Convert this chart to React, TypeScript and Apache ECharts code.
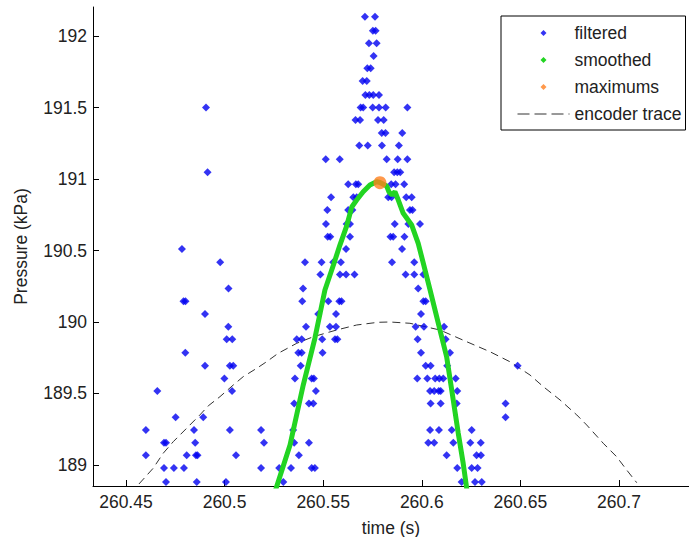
import React, { useEffect, useRef } from 'react';
import * as echarts from 'echarts';

const FONT = 'Arial, "Liberation Sans", sans-serif';

const X_MIN = 260.4333;
const X_MAX = 260.7355;
const Y_MIN = 188.853;
const Y_MAX = 192.203;
const xTicks = [260.45, 260.5, 260.55, 260.6, 260.65, 260.7];
const yTicks = [189, 189.5, 190, 190.5, 191, 191.5, 192];

// filtered samples: pressure levels and the times seen at each level
const filteredLevels = [
  192.135, 192.037, 191.949, 191.86, 191.774, 191.685, 191.587, 191.501, 191.413, 191.322,
  191.234, 191.138, 191.047, 190.963, 190.872, 190.783, 190.686, 190.597, 190.51, 190.417,
  190.332, 190.234, 190.145, 190.056, 189.967, 189.879, 189.785, 189.694, 189.605, 189.517,
  189.43, 189.334, 189.245, 189.155, 189.068, 188.979, 188.881,
];
const filteredTimes = [
  [260.5712, 260.5763],
  [260.5752, 260.5766],
  [260.5732, 260.5771],
  [260.5756],
  [260.5724, 260.5741],
  [260.57, 260.5721],
  [260.5714, 260.5734, 260.5754, 260.5783],
  [260.4906, 260.569, 260.5703, 260.5751, 260.5783, 260.5817, 260.5927],
  [260.5664, 260.5687, 260.5778, 260.5807],
  [260.5797, 260.5816, 260.5901],
  [260.5683, 260.5726, 260.5798, 260.5884],
  [260.5513, 260.5584, 260.5822, 260.5878, 260.5927],
  [260.4914, 260.586, 260.5876, 260.5891],
  [260.5627, 260.5666, 260.5678, 260.5845, 260.5867, 260.5911],
  [260.554, 260.5653, 260.567, 260.583, 260.5847, 260.5921, 260.5949],
  [260.5521, 260.5627, 260.5648, 260.594, 260.5953],
  [260.5514, 260.5619, 260.5636, 260.5863, 260.5932, 260.5991],
  [260.5523, 260.5536, 260.5636, 260.5841, 260.5855, 260.5912],
  [260.4784, 260.5616, 260.59],
  [260.4978, 260.5408, 260.5492, 260.5551, 260.559, 260.5849, 260.5962],
  [260.5486, 260.5585, 260.5616, 260.5659, 260.5918, 260.5962, 260.6008],
  [260.502, 260.5398, 260.5982],
  [260.4792, 260.4802, 260.5394, 260.5526, 260.5582, 260.5593, 260.6008, 260.602],
  [260.4901, 260.5475, 260.5565, 260.5996],
  [260.5019, 260.5413, 260.5534, 260.5565, 260.5969, 260.6011, 260.6113],
  [260.5011, 260.5039, 260.5366, 260.5391, 260.5495, 260.556, 260.5572, 260.5979, 260.6121],
  [260.4801, 260.5374, 260.5391, 260.5497, 260.5996, 260.6143],
  [260.4901, 260.5027, 260.5044, 260.5386, 260.602, 260.6045, 260.6129, 260.6486],
  [260.4999, 260.5357, 260.5442, 260.5453, 260.5977, 260.6028, 260.6068, 260.6089, 260.6109, 260.6172],
  [260.4659, 260.5038, 260.5463, 260.6042, 260.6063, 260.6086, 260.6096, 260.618],
  [260.5353, 260.5428, 260.545, 260.6045, 260.6096, 260.6177, 260.6425],
  [260.4752, 260.4892, 260.6425],
  [260.4601, 260.4845, 260.5027, 260.5185, 260.5348, 260.6042, 260.6087, 260.6152, 260.6253],
  [260.4693, 260.4703, 260.4851, 260.52, 260.5353, 260.5428, 260.6033, 260.6063, 260.616, 260.6246, 260.6299],
  [260.4601, 260.4808, 260.4855, 260.4863, 260.5058, 260.5377, 260.6126, 260.6278, 260.63],
  [260.4693, 260.4743, 260.4794, 260.5185, 260.5277, 260.5337, 260.5442, 260.5458, 260.618, 260.6253, 260.6283],
  [260.4703, 260.4859, 260.5007, 260.5298, 260.6202, 260.627, 260.6304],
];

// smoothed curve
const smoothedTime = [
  260.5251, 260.5264, 260.5332, 260.5399, 260.5458, 260.5509, 260.5552, 260.5585, 260.5619,
  260.5645, 260.567, 260.5703, 260.5737, 260.5771, 260.5788, 260.5822, 260.5834, 260.5849,
  260.5864, 260.5881, 260.5906, 260.5949, 260.5982, 260.6008, 260.6042, 260.6084, 260.6126,
  260.6152, 260.6185, 260.621, 260.6229,
];
const smoothedPressure = [
  188.79, 188.848, 189.14, 189.559, 189.886, 190.224, 190.399, 190.538, 190.671,
  190.804, 190.853, 190.911, 190.958, 190.981, 190.976, 190.951, 190.909, 190.888,
  190.911, 190.853, 190.76, 190.678, 190.55, 190.41, 190.224, 189.991, 189.757,
  189.524, 189.222, 189.012, 188.825,
];

// maximum
const maxTime = [260.5788];
const maxPressure = [190.974];

// encoder trace
const encoderTime = [
  260.4566, 260.4638, 260.4689, 260.474, 260.4808, 260.4875, 260.4917, 260.4977, 260.5044,
  260.5095, 260.5163, 260.5213, 260.5272, 260.5366, 260.545, 260.5568, 260.567, 260.5779,
  260.5839, 260.594, 260.6092, 260.6228, 260.6346, 260.6447, 260.6549, 260.6616, 260.6701,
  260.6786, 260.6836, 260.692, 260.6988, 260.7039, 260.709,
];
const encoderPressure = [
  188.867, 188.977, 189.082, 189.163, 189.257, 189.35, 189.413, 189.478, 189.559,
  189.618, 189.676, 189.722, 189.781, 189.851, 189.897, 189.944, 189.979, 189.998,
  190.0, 189.991, 189.944, 189.862, 189.792, 189.722, 189.629, 189.548, 189.455,
  189.35, 189.28, 189.152, 189.058, 188.965, 188.876,
];

const legendNames = ['filtered', 'smoothed', 'maximums', 'encoder trace'];

const BLUE = '#0000f0';
const GREEN = '#22d422';
const ORANGE = '#ff7f1e';
const GRAY = '#333333';
const DIAMOND_ICON = 'path://M5,0L10,5L5,10L0,5Z';

function fmt(v: number, step: number) {
  const k = Math.round(v / step);
  if (Math.abs(v / step - k) > 1e-6) return '';
  return String(parseFloat((k * step).toFixed(2)));
}

export default function App() {
  const ref = useRef<HTMLDivElement>(null);
  useEffect(() => {
    if (!ref.current) return;
    const chart = echarts.init(ref.current, undefined, { renderer: 'svg' });

    const filteredData: number[][] = [];
    filteredLevels.forEach((p, i) => {
      filteredTimes[i].forEach((t) => filteredData.push([t, p]));
    });
    const smoothedData = smoothedTime.map((t, i) => [t, smoothedPressure[i]]);
    const maxData = maxTime.map((t, i) => [t, maxPressure[i]]);
    const encoderData = encoderTime.map((t, i) => [t, encoderPressure[i]]);

    const labelStyle = { fontFamily: FONT, fontSize: 17.5, color: '#222' };

    chart.setOption({
      animation: false,
      backgroundColor: '#fff',
      grid: { left: 93, right: 0, top: 7, bottom: 51, containLabel: false, outerBoundsMode: 'none' },
      xAxis: {
        type: 'value',
        min: X_MIN,
        max: X_MAX,
        name: 'time (s)',
        nameLocation: 'middle',
        nameGap: 33,
        nameTextStyle: { ...labelStyle },
        axisLine: { show: true, onZero: false, lineStyle: { color: '#000', width: 1 } },
        axisTick: { show: true, inside: true, length: 6, customValues: xTicks, lineStyle: { color: '#000' } },
        axisLabel: {
          ...labelStyle,
          margin: 7,
          customValues: xTicks,
          formatter: (v: number) => fmt(v, 0.05),
        },
        splitLine: { show: false },
      },
      yAxis: {
        type: 'value',
        min: Y_MIN,
        max: Y_MAX,
        name: 'Pressure (kPa)',
        nameLocation: 'middle',
        nameRotate: 90,
        nameGap: 63,
        nameTextStyle: { ...labelStyle },
        axisLine: { show: true, onZero: false, lineStyle: { color: '#000', width: 1 } },
        axisTick: { show: true, inside: true, length: 6, customValues: yTicks, lineStyle: { color: '#000' } },
        axisLabel: {
          ...labelStyle,
          margin: 6,
          customValues: yTicks,
          formatter: (v: number) => fmt(v, 0.5),
        },
        splitLine: { show: false },
      },
      legend: {
        orient: 'vertical',
        left: 501,
        top: 16,
        padding: [8, 4, 7, 16],
        itemWidth: 52,
        itemHeight: 6,
        itemGap: 9,
        symbolKeepAspect: true,
        borderColor: '#000',
        borderWidth: 1,
        borderRadius: 0,
        backgroundColor: '#fff',
        selectedMode: false,
        textStyle: { ...labelStyle, lineHeight: 18 },
        data: [
          { name: legendNames[0], icon: DIAMOND_ICON, itemStyle: { color: BLUE } },
          { name: legendNames[1], icon: DIAMOND_ICON, itemStyle: { color: GREEN } },
          { name: legendNames[2], icon: DIAMOND_ICON, itemStyle: { color: ORANGE } },
          { name: legendNames[3], itemStyle: { opacity: 0 }, lineStyle: { type: [12, 5], color: GRAY, width: 1 } },
        ],
      },
      series: [
        {
          name: legendNames[3],
          type: 'line',
          data: encoderData,
          symbol: 'none',
          z: 1,
          lineStyle: { color: GRAY, width: 1, type: [8, 5] },
          itemStyle: { color: GRAY },
        },
        {
          name: legendNames[0],
          type: 'scatter',
          data: filteredData,
          symbol: 'diamond',
          symbolSize: 8,
          z: 2,
          itemStyle: { color: BLUE },
        },
        {
          name: legendNames[1],
          type: 'line',
          data: smoothedData,
          symbol: 'none',
          z: 3,
          clip: true,
          lineStyle: { color: GREEN, width: 5 },
          itemStyle: { color: GREEN },
        },
        {
          name: legendNames[2],
          type: 'scatter',
          data: maxData,
          symbol: 'circle',
          symbolSize: 13,
          z: 4,
          itemStyle: { color: ORANGE },
        },
      ],
    });
    return () => chart.dispose();
  }, []);
  return (
    <div
      ref={ref}
      style={{ position: 'fixed', left: 0, top: 0, width: 689, height: 537, background: '#fff' }}
    />
  );
}
